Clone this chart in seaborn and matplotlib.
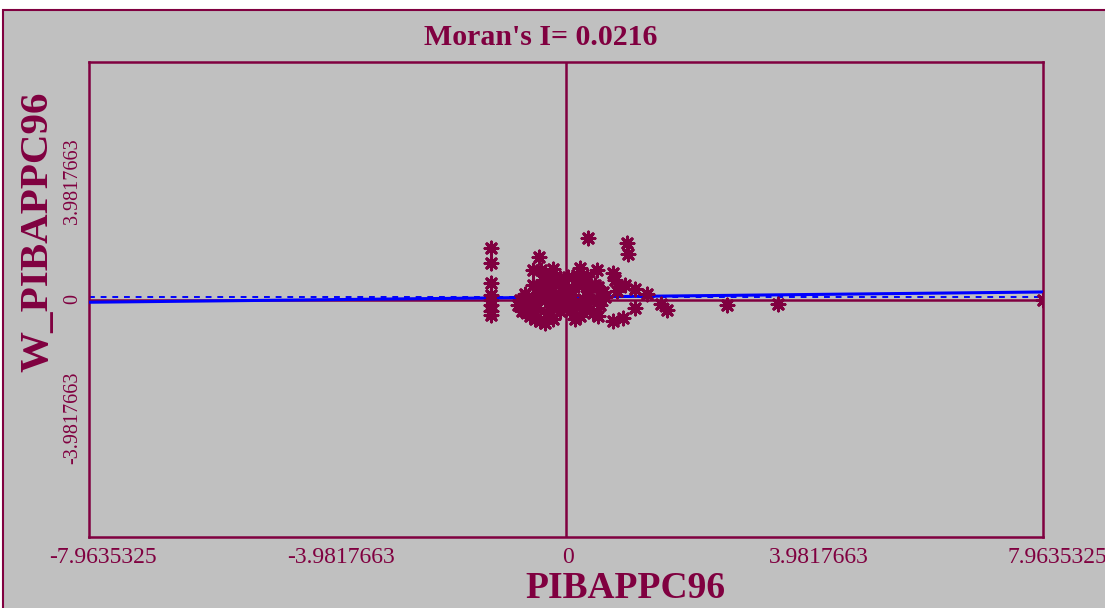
import numpy as np
import pandas as pd
import matplotlib
matplotlib.use("Agg")
import matplotlib.pyplot as plt
import matplotlib.transforms as mtransforms
from matplotlib.patches import Rectangle
import seaborn as sns

# ---- data ----
x_vals = [
    -1.25, -1.25, -1.25, -1.25, -1.25, -1.25, -1.25, -1.25,
    0.37, 1.02, 1.04, 0.23, 0.52, 0.35, 0.03, 0.78, 0.82, 0.98, 1.15, 1.35,
    0.53, 0.65, 1.15, 0.78, 0.95, 0.85, 1.59, 1.69, 2.69, 3.54, 7.96,
    -0.45, -0.55, -0.42, -0.22,
    -0.77, -0.73, -0.68, -0.63, -0.60, -0.55, -0.52, -0.48, -0.43, -0.43,
    -0.38, -0.35, -0.32, -0.27, -0.23, -0.22, -0.18, -0.15, -0.10, -0.07,
    -0.52, -0.35, -0.63, -0.27, -0.10, -0.68, -0.80, -0.57, -0.30,
    0.10, 0.15, 0.20, 0.23, 0.28, 0.32, 0.37, 0.40, 0.45, 0.48, 0.52,
    0.57, 0.62, 0.07, 0.18, 0.33, 0.15, 0.53, 0.03, 0.27, 0.00, -0.05,
]
y_vals = [
    1.72, 1.22, 0.54, 0.14, -0.03, -0.20, -0.37, -0.51,
    2.06, 1.89, 1.52, 1.05, 0.98, 0.78, 0.74, 0.88, 0.64, 0.47, 0.34, 0.17,
    0.41, 0.07, -0.27, -0.71, -0.61, 0.30, -0.14, -0.34, -0.20, -0.14, 0.00,
    1.42, 0.98, 0.98, 1.01,
    -0.03, -0.37, 0.20, -0.20, -0.54, 0.47, 0.03, -0.30, -0.71, 0.30,
    0.64, -0.03, -0.44, 0.24, -0.20, -0.64, 0.54, 0.07, -0.37, 0.30,
    -0.64, -0.78, 0.10, 0.81, 0.71, -0.37, -0.20, -0.10, 0.41,
    0.14, -0.20, 0.47, -0.54, 0.03, -0.30, 0.30, -0.03, -0.44, 0.47, 0.03,
    -0.20, 0.24, -0.37, 0.81, 0.54, -0.64, -0.54, 0.37, -0.20, -0.03, -0.20,
]
morans_i = 0.0216
intercept = 0.08
axis_max = 7.9635325
tick_vals = [-7.9635325, -3.9817663, 0.0, 3.9817663, 7.9635325]
tick_labels = ["-7.9635325", "-3.9817663", "0", "3.9817663", "7.9635325"]
ytick_vals = [-3.9817663, 0.0, 3.9817663]
ytick_labels = ["-3.9817663", "0", "3.9817663"]

MAROON = "#800040"
GRAY = "#C0C0C0"
BLUE = "#0000FF"

df = pd.DataFrame({"x": x_vals, "y": y_vals})
line_df = pd.DataFrame({"x": [-axis_max, axis_max]})
line_df["y"] = intercept + morans_i * line_df["x"]

sns.set_style("white")
plt.rcParams["font.family"] = ["Liberation Serif", "DejaVu Serif"]

fig = plt.figure(figsize=(11.05, 6.08), dpi=100)
fig.patch.set_facecolor("white")
frame = Rectangle((3 / 1105, -0.05), 1.1, 1 - 10 / 608 + 0.05,
                  transform=fig.transFigure, facecolor=GRAY,
                  edgecolor=MAROON, linewidth=1.5, zorder=-5)
fig.patches.append(frame)

ax = fig.add_axes([89 / 1105, 1 - 537 / 608, (1043 - 89) / 1105, (537 - 62) / 608])
ax.set_zorder(1)
ax.set_facecolor(GRAY)

ax.axhline(0, color=MAROON, lw=1.8, zorder=1)
ax.axvline(0, color=MAROON, lw=1.8, zorder=1)
ax.axhline(intercept, color=BLUE, lw=1.4, ls=(0, (3, 3)), zorder=2)
sns.lineplot(data=line_df, x="x", y="y", ax=ax, color=BLUE, lw=2.2, zorder=3)
sns.scatterplot(data=df, x="x", y="y", ax=ax, marker=(8, 2, 0), s=85,
                color=MAROON, edgecolor=MAROON, linewidth=2.2, zorder=4)

ax.set_xlim(-axis_max, axis_max)
ax.set_ylim(-axis_max, axis_max)
ax.set_xticks(tick_vals)
ax.set_xticklabels(tick_labels, fontsize=17, color=MAROON)
ax.set_yticks(ytick_vals)
ax.set_yticklabels(ytick_labels, fontsize=14.5, color=MAROON, rotation=90, va="center")
ax.tick_params(axis="both", direction="out", length=4, width=1.5, color=MAROON, pad=3)
ax.tick_params(axis="y", pad=1)
for s in ax.spines.values():
    s.set_color(MAROON)
    s.set_linewidth(1.8)
    s.set_visible(True)

# the original draws the x tick labels a little right of their ticks
for lab, txt in zip(ax.get_xticklabels(), tick_labels):
    dx = 2 / 100 if txt == "0" else 14 / 100
    lab.set_transform(lab.get_transform() +
                      mtransforms.ScaledTranslation(dx, 0, fig.dpi_scale_trans))

ax.set_xlabel("PIBAPPC96", fontsize=27, fontweight="bold", color=MAROON)
ax.xaxis.set_label_coords((625 - 89) / 954, (537 - 571) / 475)
ax.set_ylabel("W_PIBAPPC96", fontsize=29.5, fontweight="bold", color=MAROON)
ax.yaxis.set_label_coords((56 - 89) / 954, (537 - 232) / 475)

fig.text(541 / 1105, 1 - 45 / 608, f"Moran's I= {morans_i}", fontsize=21.5,
         fontweight="bold", color=MAROON, ha="center", va="baseline")

fig.savefig("out.png", dpi=100, facecolor=fig.get_facecolor())
